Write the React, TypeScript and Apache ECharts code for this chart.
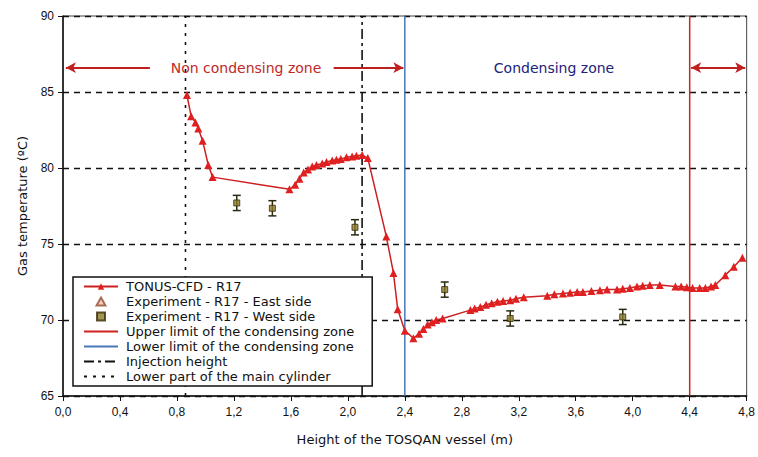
import React, { useEffect, useRef } from "react";
import * as echarts from "echarts";

const tonusX = [0.87, 0.9, 0.93, 0.95, 0.98, 1.02, 1.05, 1.59, 1.63, 1.66, 1.69, 1.72, 1.75, 1.78, 1.82, 1.85, 1.89, 1.92, 1.95, 1.99, 2.03, 2.06, 2.1, 2.14, 2.27, 2.32, 2.35, 2.4, 2.46, 2.5, 2.53, 2.56, 2.59, 2.62, 2.665, 2.86, 2.89, 2.93, 2.97, 3.01, 3.05, 3.09, 3.14, 3.18, 3.235, 3.4, 3.45, 3.51, 3.56, 3.61, 3.65, 3.71, 3.77, 3.82, 3.89, 3.93, 3.98, 4.03, 4.07, 4.12, 4.19, 4.3, 4.34, 4.38, 4.42, 4.47, 4.51, 4.55, 4.58, 4.65, 4.71, 4.77];
const tonusY = [84.8, 83.4, 83.0, 82.6, 81.8, 80.2, 79.4, 78.6, 78.9, 79.3, 79.7, 79.9, 80.1, 80.2, 80.3, 80.4, 80.5, 80.55, 80.6, 80.7, 80.75, 80.8, 80.85, 80.65, 75.5, 73.1, 70.7, 69.3, 68.8, 69.1, 69.4, 69.7, 69.85, 70.0, 70.1, 70.65, 70.75, 70.85, 71.0, 71.1, 71.2, 71.25, 71.3, 71.4, 71.5, 71.6, 71.7, 71.75, 71.8, 71.85, 71.85, 71.9, 71.95, 72.0, 72.0, 72.05, 72.1, 72.2, 72.25, 72.3, 72.3, 72.2, 72.2, 72.15, 72.1, 72.1, 72.1, 72.2, 72.3, 72.95, 73.5, 74.1];

const westX = [1.22, 1.47, 2.05, 2.68, 3.14, 3.93];
const westY = [77.7, 77.35, 76.1, 72.0, 70.1, 70.2];
const westErr = [0.5, 0.5, 0.5, 0.5, 0.5, 0.5];

const eastX: number[] = [];
const eastY: number[] = [];

const upperLimitX = 4.4;
const lowerLimitX = 2.4;
const injectionX = 2.1;
const cylinderX = 0.86;

const yMin = 65;
const yMax = 90;
const annotY = 86.6;

const names = [
  "TONUS-CFD - R17",
  "Experiment - R17 - East side",
  "Experiment - R17 - West side",
  "Upper limit of the condensing zone",
  "Lower limit of the condensing zone",
  "Injection height",
  "Lower part of the main cylinder",
];

const FONT = "Liberation Sans, Arial, sans-serif";
const WIDE = "DejaVu Sans, Arial, sans-serif";

export default function App() {
  const ref = useRef<HTMLDivElement>(null);
  useEffect(() => {
    if (!ref.current) return;
    const chart = echarts.init(ref.current, null, { renderer: "svg" });
    const vline = (x: number) => [[x, yMin], [x, yMax]];
    const noSym = { itemStyle: { opacity: 0 } };
    const option: any = {
      animation: false,
      backgroundColor: "#fff",
      textStyle: { fontFamily: FONT },
      grid: { left: 63, right: 7, top: 16, bottom: 61, show: true, borderColor: "#444", borderWidth: 1 },
      xAxis: {
        type: "value",
        min: 0,
        max: 4.8,
        interval: 0.4,
        name: "Height of the TOSQAN vessel (m)",
        nameLocation: "middle",
        nameGap: 37,
        nameTextStyle: { fontSize: 13, color: "#111", fontFamily: WIDE },
        axisLine: { lineStyle: { color: "#111", width: 1.5 } },
        axisTick: { show: true, length: 5, lineStyle: { color: "#111" } },
        axisLabel: {
          fontSize: 12,
          color: "#111",
          margin: 10,
          fontFamily: FONT,
          formatter: (v: number) => v.toFixed(1).replace(".", ","),
        },
        splitLine: { show: false },
      },
      yAxis: {
        type: "value",
        min: yMin,
        max: yMax,
        interval: 5,
        name: "Gas temperature (ºC)",
        nameLocation: "middle",
        nameGap: 34,
        nameTextStyle: { fontSize: 13, color: "#111", fontFamily: WIDE },
        axisLine: { show: true, lineStyle: { color: "#111", width: 1.5 } },
        axisTick: { show: true, length: 5, lineStyle: { color: "#111" } },
        axisLabel: { fontSize: 12, color: "#111", margin: 9, fontFamily: FONT },
        splitLine: { show: true, lineStyle: { color: "#111", type: [6, 5], width: 1.3 } },
      },
      legend: {
        orient: "vertical",
        left: 73,
        top: 277,
        itemGap: 2,
        itemWidth: 34,
        itemHeight: 8,
        padding: [3, 18, 3, 10],
        borderColor: "#111",
        borderWidth: 1.5,
        backgroundColor: "#fff",
        textStyle: { fontSize: 13, color: "#111", fontFamily: WIDE, padding: [0, 0, 0, 3] },
        data: [
          { name: names[0] },
          { name: names[1], icon: "path://M5,0L10,9L0,9Z" },
          { name: names[2], icon: "path://M0,0L9,0L9,9L0,9Z" },
          { name: names[3], ...noSym },
          { name: names[4], ...noSym },
          { name: names[5], ...noSym },
          { name: names[6], ...noSym },
        ],
      },
      graphic: [
        {
          type: "text",
          x: 246,
          y: 68,
          style: { text: "Non condensing zone", fill: "#c02828", font: `14px ${WIDE}`, textAlign: "center", textVerticalAlign: "middle" },
        },
        {
          type: "text",
          x: 554,
          y: 68,
          style: { text: "Condensing zone", fill: "#22227a", font: `14px ${WIDE}`, textAlign: "center", textVerticalAlign: "middle" },
        },
      ],
      series: [
        {
          name: names[6],
          type: "line",
          data: vline(cylinderX),
          symbol: "none",
          lineStyle: { color: "#111", width: 1.6, type: [3, 6] },
          itemStyle: { color: "#111" },
          z: 2,
        },
        {
          name: names[5],
          type: "line",
          data: vline(injectionX),
          symbol: "none",
          lineStyle: { color: "#111", width: 1.6, type: [10, 4, 3, 4] },
          itemStyle: { color: "#111" },
          z: 2,
        },
        {
          name: names[4],
          type: "line",
          data: vline(lowerLimitX),
          symbol: "none",
          lineStyle: { color: "#4a78b8", width: 1.5 },
          itemStyle: { color: "#4a78b8" },
          z: 2,
        },
        {
          name: names[3],
          type: "line",
          data: vline(upperLimitX),
          symbol: "none",
          lineStyle: { color: "#d02020", width: 1.5 },
          itemStyle: { color: "#d02020" },
          z: 2,
        },
        {
          name: "annot",
          type: "line",
          data: [[0.02, annotY]],
          symbol: "none",
          lineStyle: { width: 0 },
          markLine: {
            silent: true,
            symbolSize: [8, 10],
            label: { show: false },
            lineStyle: { color: "#c02020", width: 2, type: "solid" },
            data: [
              [{ coord: [0.02, annotY], symbol: "arrow" }, { coord: [0.61, annotY], symbol: "none" }],
              [{ coord: [1.9, annotY], symbol: "none" }, { coord: [2.39, annotY], symbol: "arrow" }],
              [{ coord: [4.41, annotY], symbol: "arrow" }, { coord: [4.79, annotY], symbol: "arrow" }],
            ],
          },
        },
        {
          name: names[0],
          type: "line",
          data: tonusX.map((x, i) => [x, tonusY[i]]),
          symbol: "triangle",
          symbolSize: 8,
          showSymbol: true,
          lineStyle: { color: "#cc2020", width: 1.5 },
          itemStyle: { color: "#e02020" },
          z: 5,
        },
        {
          name: names[1],
          type: "scatter",
          data: eastX.map((x, i) => [x, eastY[i]]),
          symbol: "triangle",
          symbolSize: 8,
          itemStyle: { color: "#f2c4b4", borderColor: "#905030", borderWidth: 1 },
        },
        {
          name: "errbars",
          type: "custom",
          data: westX.map((x, i) => [x, westY[i], westErr[i]]),
          renderItem: (params: any, api: any) => {
            const x = api.value(0);
            const y = api.value(1);
            const e = api.value(2);
            const lo = api.coord([x, y - e]);
            const hi = api.coord([x, y + e]);
            const st = { stroke: "#2a2a10", lineWidth: 1.5 };
            return {
              type: "group",
              children: [
                { type: "line", shape: { x1: lo[0], y1: lo[1], x2: hi[0], y2: hi[1] }, style: st },
                { type: "line", shape: { x1: lo[0] - 4, y1: lo[1], x2: lo[0] + 4, y2: lo[1] }, style: st },
                { type: "line", shape: { x1: hi[0] - 4, y1: hi[1], x2: hi[0] + 4, y2: hi[1] }, style: st },
              ],
            };
          },
          z: 6,
        },
        {
          name: names[2],
          type: "scatter",
          data: westX.map((x, i) => [x, westY[i]]),
          symbol: "rect",
          symbolSize: 6,
          itemStyle: { color: "#8a7a28", borderColor: "#3a2a08", borderWidth: 1 },
          z: 7,
        },
      ],
    };
    chart.setOption(option);
    return () => chart.dispose();
  }, []);
  return <div ref={ref} style={{ position: "fixed", left: 0, top: 0, width: 758, height: 457 }} />;
}
